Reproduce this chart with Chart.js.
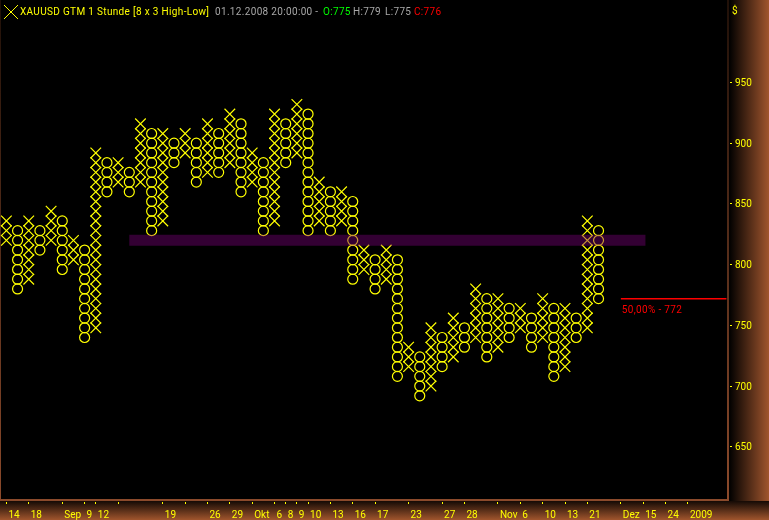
<!DOCTYPE html>
<html>
<head>
<meta charset="utf-8">
<title>XAUUSD</title>
<script src="https://cdn.jsdelivr.net/npm/chart.js@4/dist/chart.umd.min.js"></script>
<style>
    html, body { margin: 0; padding: 0; background: #000; }
    #wrap {
        position: relative;
        width: 769px;
        height: 520px;
        overflow: hidden;
        background:
            linear-gradient(#000, #000) 1px 0 / 726px 499px no-repeat,
            linear-gradient(#140a05, #a0552d) 0 501px / 769px 19px no-repeat,
            linear-gradient(to right, #000, #a0552d) 729px 0 / 40px 501px no-repeat,
            linear-gradient(#201008, #8b4a2b) 0 0 / 729px 501px no-repeat;
    }
    /* the chart keeps a margin for its point markers, so the canvas is pushed out by that much */
    #wrap canvas { position: absolute; left: -9px; top: -9px; }
    .head {
        position: absolute;
        top: 5px;
        font: 10px Roboto, sans-serif;
        line-height: 14px;
        letter-spacing: 0.33px;
        white-space: pre;
    }
</style>
</head>
<body>
<div id="wrap">
    <canvas id="myChart" width="778" height="529"></canvas>
    <svg style="position:absolute;left:4px;top:5px" width="16" height="15" shape-rendering="crispEdges">
        <path d="M0 0 L14 14 M14 0 L0 14" stroke="#ffff00" fill="none"/>
    </svg>
    <span class="head" style="left:20px;color:#ffff00">XAUUSD GTM 1 Stunde [8 x 3 High-Low]</span>
    <span class="head" style="left:215px;color:#a8a8a8">01.12.2008 20:00:00 -</span>
    <span class="head" style="left:323px;color:#00ff00">O:775</span>
    <span class="head" style="left:353px;color:#a8a8a8">H:779</span>
    <span class="head" style="left:385px;color:#a8a8a8">L:775</span>
    <span class="head" style="left:414px;color:#ff0000">C:776</span>
    <span class="head" style="left:732px;top:4px;color:#ffff00">$</span>
</div>
<script>
// point & figure columns, first one is X, then they alternate
const colTops = [836,828,836,828,844,836,820,812,892,884,884,876,916,908,908,900,908,900,916,908,924,916,892,884,924,916,932,924,868,860,860,852,812,804,812,804,732,724,748,740,756,748,780,772,772,764,764,756,772,764,764,756,836,828]
const colBottoms = [820,780,788,812,820,796,804,740,748,860,868,860,868,828,836,884,892,868,876,876,884,860,868,828,836,884,892,828,836,828,836,788,796,780,788,708,716,692,700,716,724,732,740,724,732,740,748,732,740,708,716,740,748,772]
const boxSize = 8

const tickCols = [0,2,5,7,8,10,14,16,18,20,22,24,25,26,27,29,31,33,36,39,41,44,46,48,50,52,55,57,59,61]
const tickLabels = ['14','18','Sep','9','12','','19','','26','29','Okt','6','8','9','10','13','16','17','23','27','28','Nov','6','10','13','21','Dez','15','24','2009']
const priceTicks = [650,700,750,800,850,900,950]

const bandCols = [11, 57.2]
const bandPrice = [820, 820]
const retraceCols = [55, 64.45]
const retracePrice = [772, 772]
const retraceLabel = '50,00% - 772'

let xBoxes = []
let oBoxes = []

colTops.map((top, col) => {
    for (let price = top; price >= colBottoms[col]; price -= boxSize) {
        if (col % 2 == 0) {
            xBoxes.push({x: col, y: price})
        } else {
            oBoxes.push({x: col, y: price})
        }
    }
})

const toPoints = (xs, ys) => xs.map((x, i) => ({x: x, y: ys[i]}))

// text under the red line, sits in the chart so it follows the scales
const retraceText = {
    id: 'retraceText',
    afterDatasetsDraw(chart) {
        const ctx = chart.ctx
        ctx.save()
        ctx.fillStyle = '#ff0000'
        ctx.font = '10px Roboto'
        ctx.letterSpacing = '0.33px'
        ctx.textBaseline = 'alphabetic'
        ctx.fillText(retraceLabel, chart.scales.x.getPixelForValue(retraceCols[0]) + 1, chart.scales.y.getPixelForValue(retracePrice[0]) + 14)
        ctx.restore()
    }
}

const axisFont = {family: 'Roboto', size: 10}

new Chart(document.getElementById('myChart').getContext('2d'), {
    type: 'scatter',
    data: {
        datasets: [
            {
                label: 'Band',
                data: toPoints(bandCols, bandPrice),
                showLine: true,
                pointRadius: 0,
                borderWidth: 11,
                borderCapStyle: 'butt',
                borderColor: 'rgba(128,0,128,0.4)',
            },
            {
                label: '50%',
                data: toPoints(retraceCols, retracePrice),
                showLine: true,
                pointRadius: 0,
                borderWidth: 1.5,
                borderColor: '#ff0000',
            },
            {
                label: 'X',
                data: xBoxes,
                pointStyle: 'crossRot',
                pointRadius: 7.5,
                pointBorderWidth: 1.2,
                pointBorderColor: '#ffff00',
                pointBackgroundColor: 'transparent',
            },
            {
                label: 'O',
                data: oBoxes,
                pointStyle: 'circle',
                pointRadius: 5,
                pointBorderWidth: 1.2,
                pointBorderColor: '#ffff00',
                pointBackgroundColor: 'transparent',
            },
        ],
    },
    options: {
        responsive: false,
        animation: false,
        devicePixelRatio: 1,
        layout: { padding: 0 },
        plugins: {
            legend: { display: false },
            tooltip: { enabled: false },
        },
        scales: {
            x: {
                type: 'linear',
                min: -0.6,
                max: 64.59,
                afterBuildTicks(scale) {
                    scale.ticks = tickCols.map((col) => ({value: col}))
                },
                afterFit(scale) {
                    scale.height = 20
                    scale.paddingLeft = 0
                    scale.paddingRight = 0
                },
                grid: { drawOnChartArea: false, tickColor: '#ffff00', tickLength: 4, tickWidth: 1 },
                border: { color: 'transparent', width: 4 },
                ticks: {
                    color: '#ffff00',
                    font: axisFont,
                    autoSkip: false,
                    maxRotation: 0,
                    align: 'start',
                    labelOffset: 2,
                    padding: 5,
                    callback: (value) => tickLabels[tickCols.indexOf(value)],
                },
            },
            y: {
                type: 'linear',
                position: 'right',
                min: 606.17,
                max: 1018.2,
                afterBuildTicks(scale) {
                    scale.ticks = priceTicks.map((price) => ({value: price}))
                },
                afterFit(scale) {
                    scale.width = 41
                    scale.paddingTop = 0
                    scale.paddingBottom = 0
                },
                grid: { drawOnChartArea: false, tickColor: '#ffff00', tickLength: 4, tickWidth: 1 },
                border: { color: 'transparent', width: 4 },
                ticks: { color: '#ffff00', font: axisFont, padding: 3, labelOffset: 1 },
            },
        },
    },
    plugins: [retraceText],
})
</script>
</body>
</html>
